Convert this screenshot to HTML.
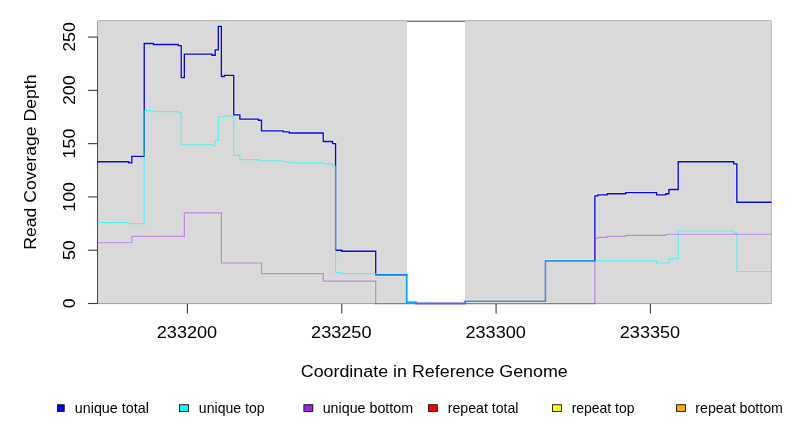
<!DOCTYPE html>
<html><head><meta charset="utf-8"><style>
html,body{margin:0;padding:0;background:#fff;width:792px;height:432px;overflow:hidden}
svg{display:block;will-change:transform}
text{font-family:"Liberation Sans",sans-serif;fill:#000}
.t16{font-size:16.5px}
.t12{font-size:14px}
</style></head><body>
<svg width="792" height="432" viewBox="0 0 792 432">
<rect x="98" y="21" width="673" height="283" fill="#d9d9d9"/>
<rect x="407" y="21" width="58" height="283" fill="#ffffff"/>
<rect x="98" y="20" width="673" height="1" fill="#b4b4b4"/>
<rect x="407" y="20" width="58" height="1" fill="#c2c2c2"/>
<rect x="407" y="21" width="58" height="1" fill="#7c7c7c"/>
<rect x="771" y="21" width="1" height="283" fill="#bdbdbd"/>
<rect x="97" y="21" width="1" height="17" fill="#a0a0a0"/>
<rect x="97" y="37" width="1" height="267" fill="#484848"/>
<line x1="87.92" y1="303.50" x2="97.42" y2="303.50" stroke="#3a3a3a" stroke-width="1.1"/>
<text transform="translate(74.9,303.40) rotate(-90) scale(1.08,1)" text-anchor="middle" class="t16">0</text>
<line x1="87.92" y1="250.22" x2="97.42" y2="250.22" stroke="#3a3a3a" stroke-width="1.1"/>
<text transform="translate(74.9,250.12) rotate(-90) scale(1.08,1)" text-anchor="middle" class="t16">50</text>
<line x1="87.92" y1="196.93" x2="97.42" y2="196.93" stroke="#3a3a3a" stroke-width="1.1"/>
<text transform="translate(74.9,196.83) rotate(-90) scale(1.08,1)" text-anchor="middle" class="t16">100</text>
<line x1="87.92" y1="143.65" x2="97.42" y2="143.65" stroke="#3a3a3a" stroke-width="1.1"/>
<text transform="translate(74.9,143.55) rotate(-90) scale(1.08,1)" text-anchor="middle" class="t16">150</text>
<line x1="87.92" y1="90.36" x2="97.42" y2="90.36" stroke="#3a3a3a" stroke-width="1.1"/>
<text transform="translate(74.9,90.26) rotate(-90) scale(1.08,1)" text-anchor="middle" class="t16">200</text>
<line x1="87.92" y1="37.08" x2="97.42" y2="37.08" stroke="#3a3a3a" stroke-width="1.1"/>
<text transform="translate(74.9,36.98) rotate(-90) scale(1.08,1)" text-anchor="middle" class="t16">250</text>
<rect x="98" y="302" width="673" height="1" fill="#d3d9df"/>
<rect x="407" y="302" width="58" height="1" fill="#f2f6fc"/>
<rect x="98" y="303" width="673" height="1" fill="#fb960c"/>
<rect x="98" y="304" width="673" height="1" fill="#fff2fa"/>
<clipPath id="hc"><rect x="98" y="0" width="673" height="432"/></clipPath>
<g clip-path="url(#hc)">
<path d="M97.42,222.51H128.77V223.57H144.21V110.61H153.47V111.68H178.16V112.74H181.25V144.71H212.11V145.78H215.20V140.45H218.29V117.01H224.46V115.94H233.72V155.37H239.89V159.63H258.41V160.70H283.11V161.76H289.28V162.83H323.23V163.90H332.49V166.03H335.58V272.60H341.75V273.66H375.71V274.73H406.57V302.43H415.83V303.50H465.22V301.37H545.47V260.87H656.59V263.00H668.94V258.74H678.20V231.03H733.76V233.17H736.85V271.53H771.50" fill="none" stroke="#e4d8d8" stroke-width="3.1"/>
<path d="M97.42,242.76H131.86V236.36H184.33V212.92H221.37V263.00H261.50V273.66H323.23V281.12H375.71V303.50H594.86V238.49H597.95V237.43H607.21V236.36H625.73V235.30H665.85V234.23H771.50" fill="none" stroke="#dbe2d6" stroke-width="3.1"/>
<path d="M97.42,161.76H128.77V162.83H131.86V156.44H144.21V43.47H153.47V44.54H178.16V45.61H181.25V77.58H184.33V54.13H212.11V55.20H215.20V49.87H218.29V26.42H221.37V76.51H224.46V75.44H233.72V114.87H239.89V119.14H258.41V120.20H261.50V130.86H283.11V131.93H289.28V132.99H323.23V141.52H332.49V143.65H335.58V250.22H341.75V251.28H375.71V274.73H406.57V302.43H415.83V303.50H465.22V301.37H545.47V260.87H594.86V195.87H597.95V194.80H607.21V193.73H625.73V192.67H656.59V194.80H665.85V193.73H668.94V189.47H678.20V161.76H733.76V163.90H736.85V202.26H771.50" fill="none" stroke="#e6e6d2" stroke-width="3.5"/>
</g>
<rect x="98" y="303" width="673" height="1" fill="#fb960c"/>
<path d="M97.42,161.76H128.77V162.83H131.86V156.44H144.21V43.47H153.47V44.54H178.16V45.61H181.25V77.58H184.33V54.13H212.11V55.20H215.20V49.87H218.29V26.42H221.37V76.51H224.46V75.44H233.72V114.87H239.89V119.14H258.41V120.20H261.50V130.86H283.11V131.93H289.28V132.99H323.23V141.52H332.49V143.65H335.58V250.22H341.75V251.28H375.71V274.73H406.57V302.43H415.83V303.50H465.22V301.37H545.47V260.87H594.86V195.87H597.95V194.80H607.21V193.73H625.73V192.67H656.59V194.80H665.85V193.73H668.94V189.47H678.20V161.76H733.76V163.90H736.85V202.26H771.50" fill="none" stroke="#0000ff" stroke-width="1.35"/>
<path d="M97.42,222.51H128.77V223.57H144.21V110.61H153.47V111.68H178.16V112.74H181.25V144.71H212.11V145.78H215.20V140.45H218.29V117.01H224.46V115.94H233.72V155.37H239.89V159.63H258.41V160.70H283.11V161.76H289.28V162.83H323.23V163.90H332.49V166.03H335.58V272.60H341.75V273.66H375.71V274.73H406.57V302.43H415.83V303.50H465.22V301.37H545.47V260.87H656.59V263.00H668.94V258.74H678.20V231.03H733.76V233.17H736.85V271.53H771.50" fill="none" stroke="#00ffff" stroke-opacity="0.65" stroke-width="1.15"/>
<path d="M97.42,242.76H131.86V236.36H184.33V212.92H221.37V263.00H261.50V273.66H323.23V281.12H375.71V303.50H594.86V238.49H597.95V237.43H607.21V236.36H625.73V235.30H665.85V234.23H771.50" fill="none" stroke="#a020f0" stroke-opacity="0.5" stroke-width="1.2"/>
<line x1="187.42" y1="304.0" x2="187.42" y2="313.6" stroke="#3a3a3a" stroke-width="1.1"/>
<text transform="translate(186.97,337.9) scale(1.098,1)" text-anchor="middle" class="t16">233200</text>
<line x1="341.75" y1="304.0" x2="341.75" y2="313.6" stroke="#3a3a3a" stroke-width="1.1"/>
<text transform="translate(341.30,337.9) scale(1.098,1)" text-anchor="middle" class="t16">233250</text>
<line x1="496.09" y1="304.0" x2="496.09" y2="313.6" stroke="#3a3a3a" stroke-width="1.1"/>
<text transform="translate(495.64,337.9) scale(1.098,1)" text-anchor="middle" class="t16">233300</text>
<line x1="650.42" y1="304.0" x2="650.42" y2="313.6" stroke="#3a3a3a" stroke-width="1.1"/>
<text transform="translate(649.97,337.9) scale(1.098,1)" text-anchor="middle" class="t16">233350</text>
<text transform="translate(434.25,376.9) scale(1.083,1)" text-anchor="middle" class="t16">Coordinate in Reference Genome</text>
<text transform="translate(35.8,162.2) rotate(-90) scale(1.068,1)" text-anchor="middle" class="t16">Read Coverage Depth</text>
<rect x="419" y="403" width="2" height="1" fill="#d6d6d6"/>
<clipPath id="lc"><rect x="57" y="0" width="800" height="432"/></clipPath>
<rect x="55.30" y="404.75" width="8.9" height="6.65" fill="#0000ff" stroke="#000" stroke-width="0.85" clip-path="url(#lc)"/>
<text transform="translate(74.76,412.5) scale(1.0254,1)" class="t12">unique total</text>
<rect x="179.50" y="404.75" width="8.9" height="6.65" fill="#00ffff" stroke="#000" stroke-width="0.85" clip-path="url(#lc)"/>
<text transform="translate(198.87,412.5) scale(1.0058,1)" class="t12">unique top</text>
<rect x="303.90" y="404.75" width="8.9" height="6.65" fill="#a020f0" stroke="#000" stroke-width="0.85" clip-path="url(#lc)"/>
<text transform="translate(322.66,412.5) scale(1.0206,1)" class="t12">unique bottom</text>
<rect x="428.40" y="404.75" width="8.9" height="6.65" fill="#ff0000" stroke="#000" stroke-width="0.85" clip-path="url(#lc)"/>
<text transform="translate(447.67,412.5) scale(1.0114,1)" class="t12">repeat total</text>
<rect x="552.50" y="404.75" width="8.9" height="6.65" fill="#ffff00" stroke="#000" stroke-width="0.85" clip-path="url(#lc)"/>
<text transform="translate(571.68,412.5) scale(0.9977,1)" class="t12">repeat top</text>
<rect x="676.60" y="404.75" width="8.9" height="6.65" fill="#ffa500" stroke="#000" stroke-width="0.85" clip-path="url(#lc)"/>
<text transform="translate(695.32,412.5) scale(1.0146,1)" class="t12">repeat bottom</text>
</svg>
</body></html>
